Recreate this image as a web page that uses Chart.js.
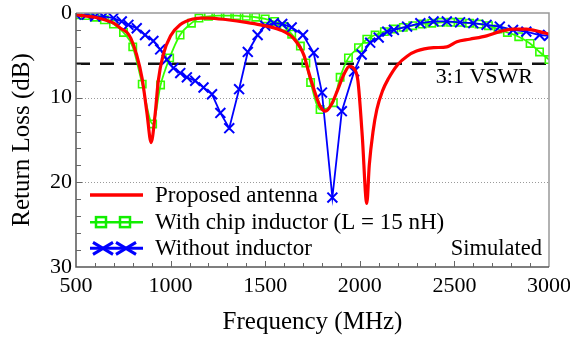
<!DOCTYPE html>
<html>
<head>
<meta charset="utf-8">
<script src="https://cdn.jsdelivr.net/npm/chart.js@4/dist/chart.umd.min.js"></script>
<style>
html,body{margin:0;padding:0;background:#fff;}
#wrap{width:570px;height:340px;position:relative;}
</style>
</head>
<body>
<div id="wrap"><canvas id="c"></canvas></div>
<script>
// ---- data ----
const seriesNames = ['Proposed antenna', 'With chip inductor (L = 15 nH)', 'Without inductor'];

const redFreq = [500,550,600,650,700,735,770,790,820,850,875,897,918,935,960,1000,1050,1120,1160,1200,1300,1400,1475,1580,1650,1705,1730,1766,1790,1819,1850,1881,1915,1945,1970,1990,2013,2037,2050,2070,2090,2120,2150,2200,2250,2300,2390,2460,2513,2580,2670,2740,2810,2880,2950,3000];
const redLoss = [0.2,0.35,0.5,0.8,1.2,1.8,2.3,3.0,4.9,7.8,11.8,15.3,12.0,8.0,5.0,2.7,1.4,0.7,0.6,0.6,0.8,1.1,1.4,2.0,3.0,5.0,7.0,9.6,11.0,11.6,10.8,9.2,7.3,6.3,6.6,8.0,14.5,22.5,18.0,14.0,11.4,9.2,7.8,6.1,5.1,4.5,4.1,4.0,3.4,3.1,2.7,2.2,1.9,1.9,2.2,2.5];

const greenFreq = [500,550,600,650,698,751,800,850,905,947,995,1050,1110,1150,1200,1250,1300,1350,1400,1450,1500,1550,1600,1640,1686,1715,1740,1790,1860,1896,1940,1993,2037,2081,2130,2180,2230,2280,2330,2380,2430,2480,2530,2580,2630,2680,2730,2780,2840,2900,2950,3000];
const greenLoss = [0.2,0.3,0.5,0.8,1.3,2.3,4.0,8.4,13.1,8.5,5.3,2.6,1.2,0.6,0.4,0.3,0.3,0.3,0.4,0.5,0.7,1.0,1.6,2.5,3.9,5.9,8.2,11.4,10.6,7.6,5.3,4.1,3.1,2.6,2.2,1.9,1.7,1.5,1.3,1.2,1.1,1.1,1.1,1.2,1.3,1.5,1.9,2.3,2.8,3.6,4.6,5.5];

const blueFreq = [500,557,601,645,698,742,777,821,865,909,945,980,1015,1051,1086,1130,1174,1219,1263,1310,1362,1408,1460,1500,1545,1590,1640,1700,1756,1800,1855,1905,1970,2010,2055,2100,2145,2180,2250,2320,2390,2460,2530,2600,2670,2740,2810,2880,2950,3000];
const blueLoss = [0.2,0.2,0.4,0.4,0.6,1.0,1.4,1.8,2.6,3.3,4.3,5.5,6.5,7.1,7.6,8.0,8.8,9.6,11.8,13.6,9.0,4.6,2.6,1.5,1.2,1.3,1.7,2.6,4.7,9.4,21.8,11.6,6.9,4.9,3.5,2.9,2.2,2.0,1.6,1.2,1.0,1.0,1.1,1.2,1.4,1.6,2.0,2.2,2.6,2.7];

const vswrFreq = [500, 3000];
const vswrLoss = [6, 6];
const vswrLabel = '3:1 VSWR';
const noteLabel = 'Simulated';

const xTickValues = [500,1000,1500,2000,2500,3000];
const yTickValues = [0,10,20,30];
const yGridValues = [10,20];

// ---- styling ----
const RED = '#ff0000', GREEN = '#33ff00', BLUE = '#0000ff';
const SERIF = '"Liberation Serif", "Times New Roman", serif';

const pts = (xs, ys) => xs.map((x, i) => ({x: x, y: ys[i]}));

const framePlugin = {
  id: 'frame',
  beforeDatasetsDraw(chart) {
    const {ctx, chartArea: a, scales: {x, y}} = chart;
    ctx.save();
    ctx.strokeStyle = '#9a9a9a';
    ctx.lineWidth = 1;
    ctx.setLineDash([1, 2]);
    yGridValues.forEach(v => {
      const py = Math.round(y.getPixelForValue(v)) + 0.5;
      ctx.beginPath(); ctx.moveTo(a.left, py); ctx.lineTo(a.right, py); ctx.stroke();
    });
    ctx.restore();
  },
  afterDatasetsDraw(chart) {
    const {ctx, chartArea: a, scales: {x, y}} = chart;
    ctx.save();
    // frame
    ctx.lineWidth = 1.5;
    ctx.strokeStyle = '#999';
    ctx.beginPath();
    ctx.moveTo(a.left, a.top); ctx.lineTo(a.right, a.top); ctx.lineTo(a.right, a.bottom);
    ctx.stroke();
    ctx.strokeStyle = '#555';
    ctx.beginPath();
    ctx.moveTo(a.left, a.top); ctx.lineTo(a.left, a.bottom); ctx.lineTo(a.right, a.bottom);
    ctx.stroke();
    // inward ticks
    ctx.lineWidth = 1;
    ctx.strokeStyle = '#666';
    for (let f = 600; f < 3000; f += 100) {
      const px = Math.round(x.getPixelForValue(f)) + 0.5;
      const len = (f % 500 === 0) ? 6 : 4;
      ctx.beginPath(); ctx.moveTo(px, a.bottom); ctx.lineTo(px, a.bottom - len); ctx.stroke();
    }
    for (let d = 2; d < 30; d += 2) {
      const py = Math.round(y.getPixelForValue(d)) + 0.5;
      const len = (d % 10 === 0) ? 6 : 5;
      ctx.beginPath(); ctx.moveTo(a.left, py); ctx.lineTo(a.left + len, py); ctx.stroke();
    }
    // annotation texts
    ctx.fillStyle = '#000';
    ctx.font = '22px ' + SERIF;
    ctx.textBaseline = 'middle';
    ctx.textAlign = 'right';
    ctx.fillText(vswrLabel, 533, y.getPixelForValue(7.6));
    ctx.font = '22.5px ' + SERIF;
    ctx.fillText(noteLabel, 542, y.getPixelForValue(27.9));
    // legend
    const lx0 = 90, lx1 = 143, tx = 155;
    const rows = [y.getPixelForValue(21.5), y.getPixelForValue(24.7), y.getPixelForValue(27.8)];
    ctx.textAlign = 'left';
    // red
    ctx.strokeStyle = RED; ctx.lineWidth = 3.5;
    ctx.beginPath(); ctx.moveTo(lx0, rows[0]); ctx.lineTo(lx1, rows[0]); ctx.stroke();
    // green
    ctx.strokeStyle = '#11ee00'; ctx.lineWidth = 2.5;
    ctx.beginPath(); ctx.moveTo(lx0, rows[1]); ctx.lineTo(lx1, rows[1]); ctx.stroke();
    [101, 125].forEach(cx => { ctx.strokeRect(cx - 5, rows[1] - 5, 10, 10); });
    // blue
    ctx.strokeStyle = BLUE; ctx.lineWidth = 3;
    ctx.beginPath(); ctx.moveTo(lx0, rows[2]); ctx.lineTo(lx1, rows[2]); ctx.stroke();
    [103, 126].forEach(cx => {
      ctx.beginPath();
      ctx.moveTo(cx - 10, rows[2] - 6); ctx.lineTo(cx + 10, rows[2] + 6);
      ctx.moveTo(cx - 10, rows[2] + 6); ctx.lineTo(cx + 10, rows[2] - 6);
      ctx.stroke();
    });
    ctx.fillStyle = '#000';
    ctx.font = '23px ' + SERIF;
    seriesNames.forEach((n, i) => ctx.fillText(n, tx, rows[i] + 1));
    ctx.restore();
  }
};

new Chart(document.getElementById('c'), {
  type: 'line',
  data: {
    datasets: [
      {label: '3:1 VSWR', data: pts(vswrFreq, vswrLoss), borderColor: '#111', borderWidth: 2.5,
       borderDash: [14, 10], pointRadius: 0, order: 4},
      {label: seriesNames[1], data: pts(greenFreq, greenLoss), borderColor: GREEN, borderWidth: 1.8,
       cubicInterpolationMode: 'monotone', pointStyle: 'rect', pointRadius: 5.2,
       pointBorderWidth: 1.6, pointBackgroundColor: 'rgba(0,0,0,0)', pointBorderColor: GREEN, order: 3},
      {label: seriesNames[2], data: pts(blueFreq, blueLoss), borderColor: BLUE, borderWidth: 1.8,
       tension: 0, pointStyle: 'crossRot', pointRadius: 7, pointBorderWidth: 2,
       pointBorderColor: BLUE, order: 2},
      {label: seriesNames[0], data: pts(redFreq, redLoss), borderColor: RED, borderWidth: 3.2,
       cubicInterpolationMode: 'monotone', pointRadius: 0, order: 1}
    ]
  },
  options: {
    responsive: true,
    maintainAspectRatio: false,
    animation: false,
    devicePixelRatio: 1,
    layout: {padding: {top: 13, right: 21, left: 0, bottom: 0}},
    plugins: {legend: {display: false}, tooltip: {enabled: false}},
    scales: {
      x: {
        type: 'linear', min: 500, max: 3000,
        afterBuildTicks: s => { s.ticks = xTickValues.map(v => ({value: v})); },
        ticks: {font: {family: SERIF, size: 22}, color: '#000', padding: 6, maxRotation: 0,
                callback: v => String(v)},
        grid: {display: false, drawTicks: false},
        border: {display: false},
        title: {display: true, text: 'Frequency (MHz)', color: '#000',
                font: {family: SERIF, size: 25}, padding: {top: 0, bottom: 3}},
        afterFit: s => { s.height = 73; s.paddingLeft = 0; s.paddingRight = 0; }
      },
      y: {
        type: 'linear', min: 0, max: 30, reverse: true,
        afterBuildTicks: s => { s.ticks = yTickValues.map(v => ({value: v})); },
        ticks: {font: {family: SERIF, size: 22}, color: '#000', padding: 4,
                callback: v => String(v)},
        grid: {display: false, drawTicks: false},
        border: {display: false},
        title: {display: true, text: 'Return Loss (dB)', color: '#000',
                font: {family: SERIF, size: 25}, padding: {top: 7, bottom: 0}},
        afterFit: s => { s.width = 76; s.paddingTop = 0; s.paddingBottom = 0; }
      }
    }
  },
  plugins: [framePlugin]
});
</script>
</body>
</html>
